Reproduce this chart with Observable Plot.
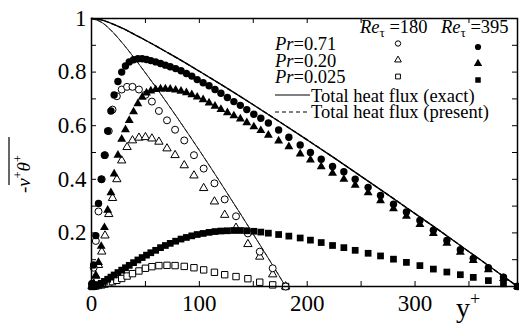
<!DOCTYPE html>
<html><head><meta charset="utf-8">
<script src="https://cdn.jsdelivr.net/npm/d3@7"></script>
<script src="https://cdn.jsdelivr.net/npm/@observablehq/plot@0.6"></script>
<style>body{margin:0;background:#fff} svg text{font-family:'Liberation Serif','DejaVu Serif',serif;}</style>
</head><body><div id="chart"></div>
<script>
// ---- data ----
const xTickLabels = [0, 100, 200, 300];
const yTickLabels = [0.2, 0.4, 0.6, 0.8, 1];
const xMinorTicks = [50, 100, 150, 200, 250, 300, 350];
const yMinorTicks = [0.1, 0.2, 0.3, 0.4, 0.5, 0.6, 0.7, 0.8, 0.9];

const grid180 = [0.5, 2, 4, 6.5, 9.5, 12.5, 16, 19.5, 23.5, 28, 33, 38, 44, 50, 56, 62.5, 70, 77.5, 86, 95, 104, 114, 123.5, 134, 145, 156, 168, 180];
const pr071Re180 = [0.01, 0.07, 0.17, 0.28, 0.40, 0.49, 0.58, 0.66, 0.71, 0.735, 0.745, 0.745, 0.735, 0.715, 0.69, 0.655, 0.62, 0.585, 0.545, 0.49, 0.44, 0.385, 0.325, 0.262, 0.198, 0.13, 0.068, 0.0];
const pr020Re180 = [0.002, 0.01, 0.04, 0.08, 0.13, 0.19, 0.27, 0.33, 0.40, 0.47, 0.52, 0.545, 0.555, 0.557, 0.552, 0.54, 0.515, 0.49, 0.452, 0.414, 0.367, 0.317, 0.267, 0.219, 0.158, 0.111, 0.045, 0.0];
const pr0025Re180 = [0.0, 0.001, 0.002, 0.004, 0.006, 0.009, 0.013, 0.018, 0.023, 0.03, 0.039, 0.048, 0.058, 0.068, 0.074, 0.078, 0.079, 0.078, 0.075, 0.07, 0.062, 0.053, 0.044, 0.037, 0.029, 0.016, 0.006, 0.0];

const grid395 = [0.5, 2, 4, 6.5, 9, 12, 15, 18, 21, 24.5, 28, 31.5, 35, 39, 43, 47, 51, 55, 59.5, 64, 68.5, 73, 78, 83, 88, 93, 98, 103.5, 109, 114.5, 120, 126, 132, 138, 144, 150.5, 157, 164, 173.5, 183, 193.5, 203, 213, 223.5, 234, 244.5, 256.5, 268, 280, 292, 304.5, 317, 329.5, 342, 354, 368, 382, 395];
const pr071Re395 = [0.01, 0.08, 0.19, 0.31, 0.40, 0.49, 0.58, 0.655, 0.715, 0.765, 0.80, 0.823, 0.838, 0.846, 0.85, 0.85, 0.847, 0.843, 0.838, 0.832, 0.826, 0.82, 0.813, 0.805, 0.795, 0.785, 0.772, 0.76, 0.749, 0.735, 0.721, 0.705, 0.69, 0.676, 0.66, 0.643, 0.628, 0.61, 0.584, 0.557, 0.528, 0.50, 0.475, 0.448, 0.428, 0.40, 0.37, 0.34, 0.307, 0.278, 0.246, 0.21, 0.172, 0.137, 0.105, 0.07, 0.035, 0.0];
const pr020Re395 = [0.002, 0.01, 0.04, 0.09, 0.15, 0.22, 0.285, 0.35, 0.42, 0.49, 0.55, 0.585, 0.62, 0.652, 0.682, 0.706, 0.722, 0.73, 0.735, 0.737, 0.737, 0.736, 0.733, 0.729, 0.723, 0.716, 0.707, 0.697, 0.685, 0.673, 0.661, 0.649, 0.637, 0.625, 0.611, 0.596, 0.582, 0.565, 0.543, 0.522, 0.495, 0.472, 0.447, 0.423, 0.40, 0.378, 0.35, 0.32, 0.29, 0.262, 0.232, 0.198, 0.162, 0.128, 0.097, 0.063, 0.03, 0.0];
const pr0025Re395 = [0.0, 0.001, 0.003, 0.007, 0.012, 0.019, 0.027, 0.035, 0.043, 0.052, 0.061, 0.07, 0.079, 0.089, 0.099, 0.108, 0.117, 0.126, 0.135, 0.145, 0.153, 0.161, 0.169, 0.177, 0.183, 0.189, 0.194, 0.198, 0.202, 0.205, 0.207, 0.208, 0.209, 0.209, 0.208, 0.206, 0.203, 0.199, 0.194, 0.188, 0.181, 0.173, 0.164, 0.153, 0.145, 0.135, 0.124, 0.114, 0.102, 0.09, 0.078, 0.065, 0.054, 0.044, 0.034, 0.022, 0.01, 0.0];

const exactY180 = [0, 10, 20, 30, 40, 50, 60, 70, 80, 90, 100, 110, 120, 130, 140, 150, 160, 170, 180];
const exact180 = [1, 0.984, 0.948, 0.902, 0.851, 0.797, 0.742, 0.685, 0.627, 0.568, 0.508, 0.447, 0.385, 0.322, 0.259, 0.195, 0.131, 0.066, 0];
const exactY395 = [0, 10, 20, 30, 40, 50, 60, 70, 80, 100, 120, 150, 175, 200, 225, 250, 275, 300, 325, 350, 375, 395];
const exact395 = [1, 0.994, 0.979, 0.961, 0.940, 0.919, 0.897, 0.874, 0.851, 0.803, 0.754, 0.678, 0.613, 0.547, 0.480, 0.411, 0.342, 0.272, 0.202, 0.130, 0.058, 0];

// ---- chart ----
const FONT = "'Liberation Serif', 'DejaVu Serif', serif";
const rows = (xs, ys) => xs.map((x, i) => ({x, y: ys[i]}));

const svg = Plot.plot({
  width: 519, height: 324,
  marginLeft: 91, marginRight: 2, marginTop: 18, marginBottom: 38,
  style: {fontFamily: FONT, fontSize: "23px", background: "white", color: "black"},
  x: {domain: [0, 395]},
  y: {domain: [0, 1]},
  marks: [
    Plot.axisX({ticks: xTickLabels, tickSize: 0, tickPadding: 8, fontSize: 23, tickFormat: d => String(d), label: null}),
    Plot.axisY({ticks: yTickLabels, tickSize: 0, tickPadding: 5, fontSize: 23, tickFormat: d => d === 1 ? "1" : d.toFixed(1), label: null}),
    Plot.tickX(xMinorTicks, {x: d => d, insetTop: 263, stroke: "black", strokeWidth: 1}),
    Plot.tickX(xMinorTicks, {x: d => d, insetBottom: 263, stroke: "black", strokeWidth: 1}),
    Plot.tickY(yMinorTicks, {y: d => d, insetRight: 421, stroke: "black", strokeWidth: 1}),
    Plot.tickY(yMinorTicks, {y: d => d, insetLeft: 421, stroke: "black", strokeWidth: 1}),
    Plot.line(rows(exactY180, exact180), {x: "x", y: "y", stroke: "#222", strokeWidth: 1, curve: "monotone-x"}),
    Plot.line(rows(exactY395, exact395), {x: "x", y: "y", stroke: "black", strokeWidth: 1.3, curve: "monotone-x"}),
    Plot.line(rows(exactY180, exact180), {x: "x", y: "y", stroke: "#222", strokeWidth: 1, strokeDasharray: "4,3", curve: "monotone-x"}),
    Plot.line(rows(exactY395, exact395), {x: "x", y: "y", stroke: "black", strokeWidth: 1.3, strokeDasharray: "4,3", curve: "monotone-x"}),
    Plot.dot(rows(grid180, pr0025Re180), {x: "x", y: "y", symbol: "square", r: 3.6, fill: "white", stroke: "black", strokeWidth: 1}),
    Plot.dot(rows(grid180, pr020Re180), {x: "x", y: "y", symbol: "triangle", r: 3.1, fill: "white", stroke: "black", strokeWidth: 1}),
    Plot.dot(rows(grid180, pr071Re180), {x: "x", y: "y", symbol: "circle", r: 3.5, fill: "white", stroke: "black", strokeWidth: 1}),
    Plot.dot(rows(grid395, pr0025Re395), {x: "x", y: "y", symbol: "square", r: 3.8, fill: "black", stroke: "none"}),
    Plot.dot(rows(grid395, pr020Re395), {x: "x", y: "y", symbol: "triangle", r: 3.3, fill: "black", stroke: "none"}),
    Plot.dot(rows(grid395, pr071Re395), {x: "x", y: "y", symbol: "circle", r: 3.7, fill: "black", stroke: "none"}),
    Plot.frame({stroke: "black", strokeWidth: 1.5})
  ]
});
document.getElementById("chart").appendChild(svg);

// ---- labels & legend ----
const s = d3.select(svg);
const g = s.append("g").attr("font-family", FONT).attr("fill", "black").attr("text-anchor", "start");

// y label: -overline(v+ θ+)
const yl = g.append("g").attr("transform", "translate(30,165) rotate(-90)");
const yt = yl.append("text").attr("x", -28).attr("y", 0).attr("font-size", 19).attr("text-anchor", "start");
yt.append("tspan").text("-");
yt.append("tspan").attr("font-style", "italic").text("v");
yt.append("tspan").attr("font-size", 12).attr("dy", -8).text("+");
yt.append("tspan").attr("font-style", "italic").attr("dy", 8).text("θ");
yt.append("tspan").attr("font-size", 12).attr("dy", -8).text("+");
yl.append("line").attr("x1", -20).attr("x2", 28).attr("y1", -21).attr("y2", -21).attr("stroke", "black").attr("stroke-width", 1.2);

// x label y+
const xl = g.append("text").attr("x", 456).attr("y", 317).attr("font-size", 28);
xl.append("tspan").text("y");
xl.append("tspan").attr("font-size", 18).attr("dy", -12).text("+");

// legend
const LF = 18.5;
function reLabel(x, val) {
  const t = g.append("text").attr("x", x).attr("y", 33).attr("font-size", LF);
  t.append("tspan").attr("font-style", "italic").text("Re");
  t.append("tspan").attr("font-size", 13).attr("dy", 4).text("τ");
  t.append("tspan").attr("dy", -4).text(" =" + val);
}
reLabel(360, "180");
reLabel(441, "395");
const prs = [["0.71", 50, "circle"], ["0.20", 66.5, "triangle"], ["0.025", 83, "square"]];
const symMap = {circle: d3.symbolCircle, triangle: d3.symbolTriangle, square: d3.symbolSquare};
prs.forEach(([v, yb, sym]) => {
  const t = g.append("text").attr("x", 275).attr("y", yb).attr("font-size", LF);
  t.append("tspan").attr("font-style", "italic").text("Pr");
  t.append("tspan").text("=" + v);
  const rr = sym === "triangle" ? 2.5 : 2.7;
  g.append("path").attr("d", d3.symbol(symMap[sym], Math.PI * rr * rr)())
    .attr("transform", `translate(398,${yb - 6.5})`).attr("fill", "white").attr("stroke", "black").attr("stroke-width", 1);
  g.append("path").attr("d", d3.symbol(symMap[sym], Math.PI * 3.1 * 3.1)())
    .attr("transform", `translate(478,${yb - 3})`).attr("fill", "black");
});
g.append("line").attr("x1", 275).attr("x2", 310).attr("y1", 95).attr("y2", 95).attr("stroke", "black").attr("stroke-width", 1);
g.append("text").attr("x", 311).attr("y", 101.5).attr("font-size", LF).text("Total heat flux (exact)");
g.append("line").attr("x1", 275).attr("x2", 310).attr("y1", 112).attr("y2", 112).attr("stroke", "black").attr("stroke-width", 1).attr("stroke-dasharray", "4,3");
g.append("text").attr("x", 311).attr("y", 118).attr("font-size", LF).text("Total heat flux (present)");
</script>
</body></html>
